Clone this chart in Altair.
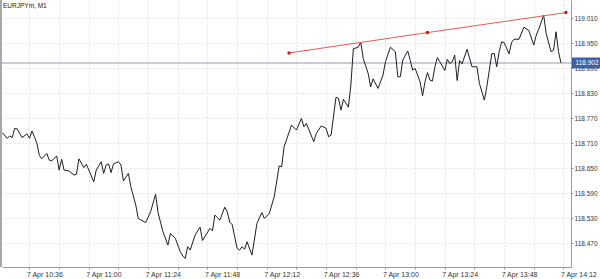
import altair as alt
import pandas as pd

# ---- data (EURJPYm, M1, 7 Apr) ----
bar_time = [
    "10:25", "10:27", "10:28", "10:29", "10:30", "10:31", "10:33", "10:35", "10:36", "10:37",
    "10:38", "10:39", "10:40", "10:41", "10:43", "10:44", "10:45", "10:47", "10:48", "10:49",
    "10:50", "10:52", "10:54", "10:55", "10:56", "10:58", "10:59",
    "11:02", "11:03", "11:05", "11:06", "11:07", "11:08", "11:09", "11:10", "11:12", "11:13",
    "11:14", "11:16", "11:17", "11:19", "11:20", "11:23", "11:25", "11:27", "11:28", "11:30",
    "11:32", "11:33", "11:35", "11:37", "11:38", "11:39", "11:40", "11:41", "11:43", "11:45",
    "11:46", "11:49", "11:50", "11:51", "11:53", "11:55", "11:56", "11:57", "11:58",
    "12:00", "12:01", "12:02", "12:03", "12:04", "12:06", "12:08", "12:10", "12:11", "12:13",
    "12:15", "12:17", "12:18", "12:19", "12:22", "12:24", "12:26", "12:27", "12:28", "12:31",
    "12:32", "12:34", "12:36", "12:37", "12:38", "12:40", "12:41", "12:42", "12:43", "12:45",
    "12:46", "12:47", "12:49", "12:50", "12:51", "12:53", "12:54", "12:55", "12:57", "12:59",
    "13:00", "13:02", "13:04", "13:05", "13:06", "13:07", "13:09", "13:10", "13:11", "13:12",
    "13:14", "13:15", "13:16", "13:17", "13:18", "13:19", "13:20", "13:21", "13:22", "13:24",
    "13:25", "13:26", "13:27", "13:28", "13:29", "13:30", "13:31", "13:33", "13:35", "13:37",
    "13:38", "13:40", "13:41", "13:43", "13:44", "13:45", "13:46", "13:47", "13:48", "13:50",
    "13:51", "13:52", "13:54", "13:56", "13:58",
    "14:00", "14:01", "14:02", "14:04", "14:05", "14:07", "14:08", "14:09", "14:10", "14:11",
]
close = [
    118.735, 118.721, 118.727, 118.723, 118.745, 118.744, 118.723, 118.732, 118.721, 118.739,
    118.725, 118.709, 118.680, 118.672, 118.685, 118.669, 118.667, 118.679, 118.645, 118.671,
    118.645, 118.643, 118.633, 118.635, 118.672, 118.651, 118.659,
    118.617, 118.645, 118.665, 118.637, 118.657, 118.660, 118.639, 118.660, 118.665, 118.657,
    118.619, 118.637, 118.605, 118.561, 118.529, 118.519, 118.545, 118.587, 118.543, 118.497,
    118.465, 118.493, 118.481, 118.449, 118.439, 118.433, 118.461, 118.453, 118.489, 118.508,
    118.476, 118.505, 118.499, 118.537, 118.525, 118.556, 118.545, 118.520, 118.514,
    118.457, 118.453, 118.461, 118.455, 118.473, 118.441, 118.517, 118.543, 118.529, 118.541,
    118.581, 118.655, 118.653, 118.701, 118.753, 118.741, 118.769, 118.749, 118.757, 118.713,
    118.733, 118.751, 118.745, 118.725, 118.729, 118.820, 118.817, 118.789, 118.815, 118.796,
    118.849, 118.936, 118.940, 118.952, 118.913, 118.877, 118.845, 118.864, 118.841, 118.873,
    118.905, 118.940, 118.929, 118.869, 118.869, 118.909, 118.931, 118.909, 118.885, 118.889,
    118.857, 118.823, 118.857, 118.879, 118.861, 118.859, 118.893, 118.915, 118.905, 118.884,
    118.911, 118.901, 118.905, 118.921, 118.860, 118.908, 118.900, 118.935, 118.893, 118.893,
    118.853, 118.813, 118.845, 118.924, 118.925, 118.893, 118.929, 118.953, 118.951, 118.924,
    118.951, 118.959, 118.959, 118.988, 118.980,
    118.945, 118.969, 118.983, 119.017, 118.973, 118.929, 118.933, 118.977, 118.929, 118.902,
]
trend_time = ["12:21", "13:17", "14:13"]
trend_price = [118.926, 118.975, 119.023]
current_price = 118.902
symbol_label = "EURJPYm, M1"
date_prefix = "7 Apr "
x_grid_times = ["10:36", "10:48", "11:00", "11:12", "11:24", "11:36", "11:48", "12:00",
                "12:12", "12:24", "12:36", "12:48", "13:00", "13:12", "13:24", "13:36",
                "13:48", "14:00", "14:12"]
y_ticks = [118.470, 118.530, 118.590, 118.650, 118.710, 118.770, 118.830, 118.890,
           118.950, 119.010]


def to_min(s):
    h, m = s.split(":")
    return int(h) * 60 + int(m)


W, H = 569, 267
FONT = "Liberation Sans"

df = pd.DataFrame({"t": [to_min(s) for s in bar_time], "p": close})
trend_df = pd.DataFrame({"t": [to_min(s) for s in trend_time], "p": trend_price})
cur_df = pd.DataFrame({"p": [current_price], "lab": [f"{current_price:.3f}"]})
title_df = pd.DataFrame({"lab": [symbol_label]})

x_vals = [to_min(s) for s in x_grid_times]
first = x_vals[0]

x_scale = alt.Scale(domain=[624.88, 855.05], nice=False, zero=False)
y_scale = alt.Scale(domain=[118.4124, 119.0532], nice=False, zero=False)

label_expr = (
    f"(datum.value - {first}) % 24 == 0 ? '{date_prefix}' + floor(datum.value / 60) + ':' + "
    "(datum.value % 60 < 10 ? '0' : '') + (datum.value % 60) : ''"
)

x_axis = alt.Axis(
    values=x_vals, labelExpr=label_expr, title=None, grid=True, gridDash=[2, 2],
    gridColor="#e3e3e3", tickSize=2, tickColor="#999999", domainColor="#999999",
    labelFontSize=7, labelAlign="left", labelOffset=-3, labelPadding=1,
    labelOverlap=False, labelFlush=False, labelColor="#333333", labelFont=FONT,
)
y_axis = alt.Axis(
    values=y_ticks, format=".3f", orient="right", title=None, grid=True, gridDash=[2, 2],
    gridColor="#e3e3e3", tickSize=2, tickColor="#999999", domainColor="#999999",
    labelFontSize=6.5, labelPadding=1, labelOverlap=False, labelFlush=False,
    labelColor="#333333", labelFont=FONT,
)


def X():
    return alt.X("t:Q", scale=x_scale, axis=x_axis)


def Y():
    return alt.Y("p:Q", scale=y_scale, axis=y_axis)


price_line = alt.Chart(df).mark_line(color="#1e1e1e", strokeWidth=1).encode(x=X(), y=Y())

cur_rule = alt.Chart(cur_df).mark_rule(color="#8d9bb2", strokeWidth=1).encode(y=Y())

trend = alt.Chart(trend_df).mark_line(color="#e05a5a", strokeWidth=1).encode(x=X(), y=Y())
trend_pts = alt.Chart(trend_df).mark_circle(color="#c41e1e", size=12, opacity=1).encode(x=X(), y=Y())

price_box = alt.Chart(cur_df).mark_tick(
    color="#3c62a6", thickness=11, size=30, orient="horizontal", opacity=1
).encode(y=Y(), x=alt.value(W + 16))
price_text = alt.Chart(cur_df).mark_text(
    color="white", fontSize=6.5, font=FONT, align="center", baseline="middle"
).encode(y=Y(), x=alt.value(W + 16), text="lab:N")

title_text = alt.Chart(title_df).mark_text(
    color="#222222", fontSize=6.5, font=FONT, align="left", baseline="middle"
).encode(x=alt.value(1), y=alt.value(6), text="lab:N")

left_border = alt.Chart(title_df).mark_rule(color="#a8a8a8", strokeWidth=2).encode(
    x=alt.value(-1), y=alt.value(0), y2=alt.value(H)
)

chart = alt.layer(
    cur_rule, price_line, trend, trend_pts, price_box, price_text, title_text, left_border
).properties(
    width=W, height=H, autosize="none",
    padding={"left": 2, "top": 0, "right": 29, "bottom": 12},
    background="white",
).configure_view(stroke=None)

chart.save("out.html", embed_options={"renderer": "svg", "actions": False})
